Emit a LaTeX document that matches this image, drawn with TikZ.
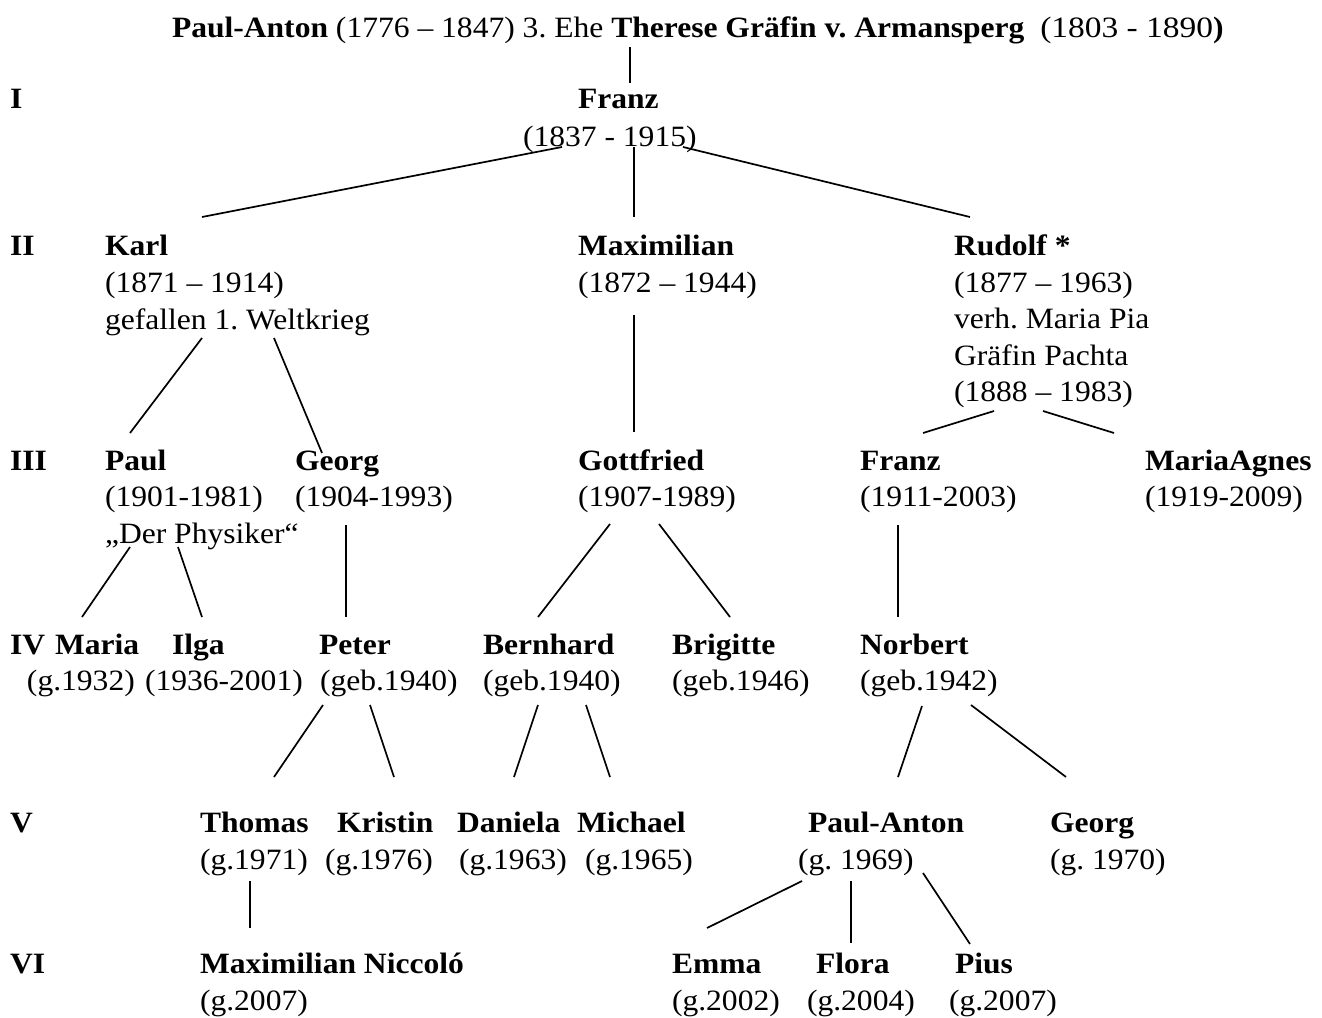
\documentclass[tikz,border=0pt]{standalone}
\usepackage{fontspec}
\setmainfont{Liberation Serif}
\usepackage{graphicx}
\newcommand{\xs}[1]{\scalebox{1.07}[1]{#1}}
\frenchspacing
\begin{document}
\begin{tikzpicture}[x=1pt,y=-1pt,
  every node/.style={inner sep=0pt, outer sep=0pt, anchor=base west, font=\fontsize{29.5}{35}\selectfont\frenchspacing},
  nm/.style={font=\fontsize{29.5}{35}\selectfont\frenchspacing\bfseries},
  ln/.style={line width=1.7pt}]
\path[use as bounding box, fill=white] (0,0) rectangle (1322,1017);

% top line
\node[nm] (top) at (172,37) {\xs{Paul-Anton \mdseries(1776 – 1847) 3. Ehe \bfseries Therese Gräfin v. Armansperg\ \ \mdseries\scalebox{1.06}[1]{(1803 - 1890}\bfseries)}};

% generation labels
\node[nm] (r1) at (10,108) {\xs{I}};
\node[nm] (r2) at (10,255) {\xs{II}};
\node[nm] (r3) at (10,470) {\xs{III}};
\node[nm] (r4) at (10,654) {\xs{IV}};
\node[nm] (r5) at (10,832) {\xs{V}};
\node[nm] (r6) at (10,973) {\xs{VI}};

% I
\node[nm] (franz) at (578,108) {\xs{Franz}};
\node (franzd) at (523,146) {\xs{(1837 - 1915)}};

% II
\node[nm] (karl) at (105,255) {\xs{Karl}};
\node (karld) at (105,292) {\xs{(1871 – 1914)}};
\node (karlx) at (105,329) {\xs{gefallen 1. Weltkrieg}};
\node[nm] (max) at (578,255) {\xs{Maximilian}};
\node (maxd) at (578,292) {\xs{(1872 – 1944)}};
\node[nm] (rudolf) at (954,255) {\xs{Rudolf *}};
\node (rudolfd) at (954,292) {\xs{(1877 – 1963)}};
\node (rudolfx1) at (954,328) {\xs{verh. Maria Pia}};
\node (rudolfx2) at (954,365) {\xs{Gräfin Pachta}};
\node (rudolfx3) at (954,401) {\xs{(1888 – 1983)}};

% III
\node[nm] (paul) at (105,470) {\xs{Paul}};
\node (pauld) at (105,506) {\xs{(1901-1981)}};
\node (paulx) at (105,543) {\xs{„Der Physiker“}};
\node[nm] (georg) at (295,470) {\xs{Georg}};
\node (georgd) at (295,506) {\xs{(1904-1993)}};
\node[nm] (gottfried) at (578,470) {\xs{Gottfried}};
\node (gottfriedd) at (578,506) {\xs{(1907-1989)}};
\node[nm] (franzb) at (860,470) {\xs{Franz}};
\node (franzbd) at (860,506) {\xs{(1911-2003)}};
\node[nm] (agnes) at (1145,470) {\xs{MariaAgnes}};
\node (agnesd) at (1145,506) {\xs{(1919-2009)}};

% IV
\node[nm] (maria) at (55,654) {\xs{Maria}};
\node (mariad) at (27,690) {\xs{(g.1932)}};
\node[nm] (ilga) at (172,654) {\xs{Ilga}};
\node (ilgad) at (145,690) {\xs{(1936-2001)}};
\node[nm] (peter) at (319,654) {\xs{Peter}};
\node (peterd) at (320,690) {\xs{(geb.1940)}};
\node[nm] (bernhard) at (483,654) {\xs{Bernhard}};
\node (bernhardd) at (483,690) {\xs{(geb.1940)}};
\node[nm] (brigitte) at (672,654) {\xs{Brigitte}};
\node (brigitted) at (672,690) {\xs{(geb.1946)}};
\node[nm] (norbert) at (860,654) {\xs{Norbert}};
\node (norbertd) at (860,690) {\xs{(geb.1942)}};

% V
\node[nm] (thomas) at (200,832) {\xs{Thomas}};
\node (thomasd) at (200,869) {\xs{(g.1971)}};
\node[nm] (kristin) at (337,832) {\xs{Kristin}};
\node (kristind) at (325,869) {\xs{(g.1976)}};
\node[nm] (daniela) at (457,832) {\xs{Daniela}};
\node (danielad) at (459,869) {\xs{(g.1963)}};
\node[nm] (michael) at (577,832) {\xs{Michael}};
\node (michaeld) at (585,869) {\xs{(g.1965)}};
\node[nm] (paulanton) at (808,832) {\xs{Paul-Anton}};
\node (paulantond) at (798,869) {\xs{(g. 1969)}};
\node[nm] (georgb) at (1050,832) {\xs{Georg}};
\node (georgbd) at (1050,869) {\xs{(g. 1970)}};

% VI
\node[nm] (maxn) at (200,973) {\xs{Maximilian Niccoló}};
\node (maxnd) at (200,1010) {\xs{(g.2007)}};
\node[nm] (emma) at (672,973) {\xs{Emma}};
\node (emmad) at (672,1010) {\xs{(g.2002)}};
\node[nm] (flora) at (816,973) {\xs{Flora}};
\node (florad) at (807,1010) {\xs{(g.2004)}};
\node[nm] (pius) at (955,973) {\xs{Pius}};
\node (piusd) at (949,1010) {\xs{(g.2007)}};

% connector end points
\coordinate (top-s) at (630,47);   \coordinate (franz-n) at (630,83);
\coordinate (franz-sw) at (562,147); \coordinate (karl-n) at (202,217);
\coordinate (franz-s) at (634,147);  \coordinate (max-n) at (634,217);
\coordinate (franz-se) at (683,147); \coordinate (rudolf-n) at (970,217);
\coordinate (karl-sw) at (202,338);  \coordinate (paul-n) at (130,433);
\coordinate (karl-se) at (274,338);  \coordinate (georg-n) at (322,453);
\coordinate (max-s) at (634,315);    \coordinate (gottfried-n) at (634,432);
\coordinate (rudolf-sw) at (994,411); \coordinate (franzb-n) at (923,433);
\coordinate (rudolf-se) at (1043,411); \coordinate (agnes-n) at (1114,433);
\coordinate (paul-sw) at (130,547);  \coordinate (maria-n) at (82,617);
\coordinate (paul-se) at (178,547);  \coordinate (ilga-n) at (202,617);
\coordinate (georg-s) at (346,525);  \coordinate (peter-n) at (346,617);
\coordinate (gottfried-sw) at (610,524); \coordinate (bernhard-n) at (538,617);
\coordinate (gottfried-se) at (659,524); \coordinate (brigitte-n) at (730,617);
\coordinate (franzb-s) at (898,525); \coordinate (norbert-n) at (898,617);
\coordinate (peter-sw) at (323,705); \coordinate (thomas-n) at (274,777);
\coordinate (peter-se) at (370,705); \coordinate (kristin-n) at (394,777);
\coordinate (bernhard-sw) at (538,705); \coordinate (daniela-n) at (514,777);
\coordinate (bernhard-se) at (586,705); \coordinate (michael-n) at (610,777);
\coordinate (norbert-sw) at (922,706); \coordinate (paulanton-n) at (898,777);
\coordinate (norbert-se) at (971,705); \coordinate (georgb-n) at (1066,777);
\coordinate (thomas-s) at (250,881); \coordinate (maxn-n) at (250,928);
\coordinate (paulanton-sw) at (802,881); \coordinate (emma-n) at (707,928);
\coordinate (paulanton-s) at (851,881);  \coordinate (flora-n) at (851,943);
\coordinate (paulanton-se) at (923,873); \coordinate (pius-n) at (970,944);

% connectors
\draw[ln] (top-s) -- (franz-n);
\draw[ln] (franz-sw) -- (karl-n);
\draw[ln] (franz-s) -- (max-n);
\draw[ln] (franz-se) -- (rudolf-n);
\draw[ln] (karl-sw) -- (paul-n);
\draw[ln] (karl-se) -- (georg-n);
\draw[ln] (max-s) -- (gottfried-n);
\draw[ln] (rudolf-sw) -- (franzb-n);
\draw[ln] (rudolf-se) -- (agnes-n);
\draw[ln] (paul-sw) -- (maria-n);
\draw[ln] (paul-se) -- (ilga-n);
\draw[ln] (georg-s) -- (peter-n);
\draw[ln] (gottfried-sw) -- (bernhard-n);
\draw[ln] (gottfried-se) -- (brigitte-n);
\draw[ln] (franzb-s) -- (norbert-n);
\draw[ln] (peter-sw) -- (thomas-n);
\draw[ln] (peter-se) -- (kristin-n);
\draw[ln] (bernhard-sw) -- (daniela-n);
\draw[ln] (bernhard-se) -- (michael-n);
\draw[ln] (norbert-sw) -- (paulanton-n);
\draw[ln] (norbert-se) -- (georgb-n);
\draw[ln] (thomas-s) -- (maxn-n);
\draw[ln] (paulanton-sw) -- (emma-n);
\draw[ln] (paulanton-s) -- (flora-n);
\draw[ln] (paulanton-se) -- (pius-n);
\end{tikzpicture}
\end{document}
